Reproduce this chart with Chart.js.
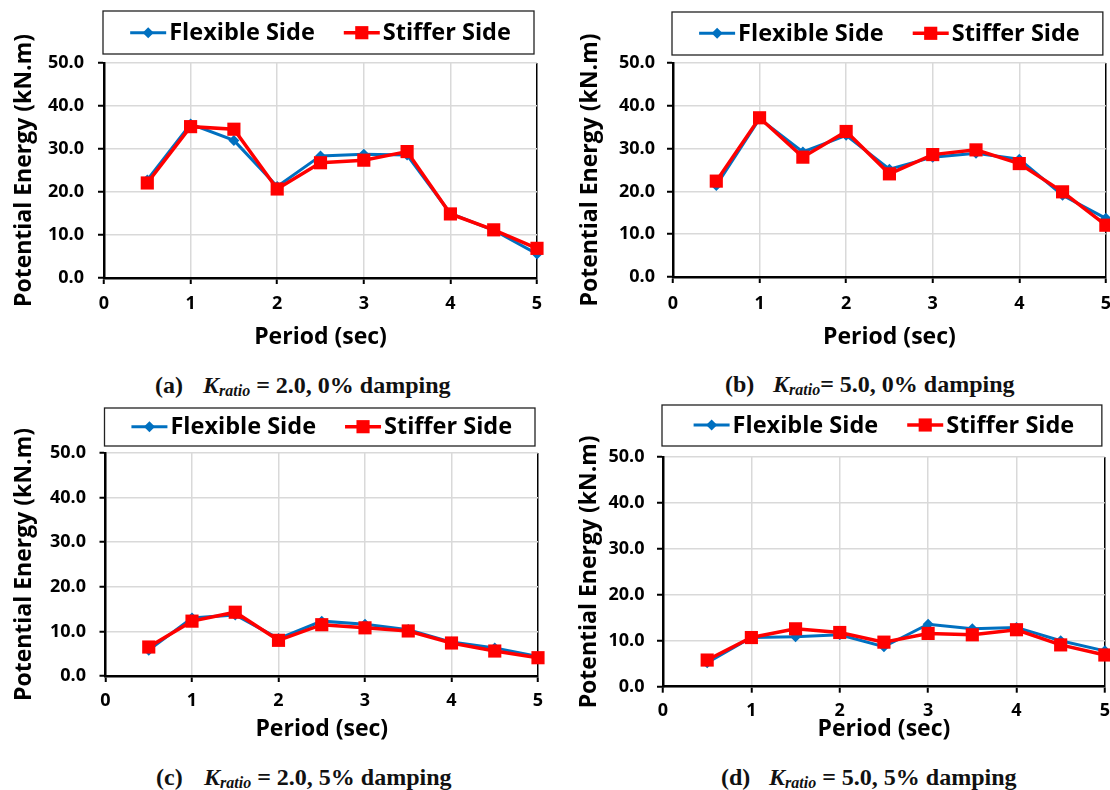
<!DOCTYPE html>
<html>
<head>
<meta charset="utf-8">
<script src="https://cdn.jsdelivr.net/npm/chart.js@4.4.0/dist/chart.umd.min.js"></script>
<style>
  html, body { margin: 0; padding: 0; background: #fff; overflow: hidden; width: 1110px; height: 790px; }
  canvas { position: absolute; }
  .cap { position: absolute; font-family: "Liberation Serif", "Times New Roman", serif; font-weight: bold; font-size: 24px; white-space: nowrap; line-height: 1; color: #111; }
  .cap .k { position: absolute; top: 0; }
  .cap sub { font-size: 16px; vertical-align: -3px; }
</style>
</head>
<body>
<canvas id="chartA" width="560" height="355" style="left:0px;top:0px"></canvas>
<canvas id="chartB" width="566" height="355" style="left:555px;top:0px"></canvas>
<canvas id="chartC" width="560" height="350" style="left:0px;top:400px"></canvas>
<canvas id="chartD" width="562" height="350" style="left:555px;top:400px"></canvas>

<div class="cap" style="left:155px;top:373px">(a)<span class="k" style="left:48px"><i>K</i><sub><i>ratio</i></sub> = 2.0, 0% damping</span></div>
<div class="cap" style="left:725px;top:372px">(b)<span class="k" style="left:48px"><i>K</i><sub><i>ratio</i></sub>= 5.0, 0% damping</span></div>
<div class="cap" style="left:156px;top:765px">(c)<span class="k" style="left:48px"><i>K</i><sub><i>ratio</i></sub> = 2.0, 5% damping</span></div>
<div class="cap" style="left:721px;top:765px">(d)<span class="k" style="left:48px"><i>K</i><sub><i>ratio</i></sub> = 5.0, 5% damping</span></div>

<script>
// period (sec)
const periods = [0.5, 1, 1.5, 2, 2.5, 3, 3.5, 4, 4.5, 5];

// potential energy (kN.m)
const flexA = [22.8, 35.8, 32.0, 21.3, 28.4, 28.8, 28.6, 15.0, 11.1, 5.6];
const stiffA = [22.1, 35.2, 34.6, 20.7, 26.8, 27.4, 29.4, 14.9, 11.2, 6.9];
const flexB = [21.4, 37.0, 29.2, 33.1, 25.2, 28.0, 28.9, 27.5, 19.1, 13.7];
const stiffB = [22.4, 37.2, 28.0, 34.0, 24.1, 28.6, 29.7, 26.5, 19.9, 12.1];
const flexC = [5.8, 13.0, 13.7, 8.4, 12.3, 11.6, 10.4, 7.6, 6.3, 4.4];
const stiffC = [6.5, 12.3, 14.3, 8.0, 11.5, 10.8, 10.1, 7.4, 5.6, 4.1];
const flexD = [5.2, 10.7, 10.9, 11.3, 8.7, 13.6, 12.6, 12.9, 10.0, 7.8];
const stiffD = [5.8, 10.7, 12.6, 11.8, 9.7, 11.6, 11.3, 12.4, 9.1, 6.9];

const seriesNames = ['Flexible Side', 'Stiffer Side'];
const xTitle = 'Period (sec)';
const yTitle = 'Potential Energy (kN.m)';
const xMin = 0, xMax = 5, xStep = 1;
const yMin = 0, yMax = 50, yStep = 10;

const FONT = "'Open Sans', 'DejaVu Sans', sans-serif";
Chart.defaults.font.family = FONT;
Chart.defaults.font.weight = 'bold';
Chart.defaults.color = '#000';

// legend in a box, drawn above the plot (line + marker + label like Excel)
const boxLegend = {
    id: 'boxLegend',
    afterDraw(chart, args, opts) {
        const {ctx, chartArea} = chart;
        ctx.save();
        ctx.strokeStyle = '#222';
        ctx.lineWidth = 1.3;
        const bx = chartArea.left - 1;
        ctx.strokeRect(bx, opts.top, chartArea.right - 3 - bx, opts.bottom - opts.top);

        ctx.font = 'bold 23.5px ' + FONT;
        ctx.textBaseline = 'middle';
        const items = chart.data.datasets.map(ds => ({ds: ds, w: ctx.measureText(ds.label).width}));
        const total = items.reduce((s, it) => s + 39 + it.w, 0) + 29 * (items.length - 1);
        let x = (chartArea.left + chartArea.right) / 2 - total / 2;
        const y = opts.textY;
        items.forEach(it => {
            const ds = it.ds;
            ctx.strokeStyle = ds.borderColor;
            ctx.lineWidth = ds.borderWidth;
            ctx.beginPath();
            ctx.moveTo(x, y);
            ctx.lineTo(x + 36, y);
            ctx.stroke();
            ctx.fillStyle = ds.backgroundColor;
            const r = ds.pointRadius;
            const cx = x + 18;
            ctx.beginPath();
            if (ds.pointStyle === 'rectRot') {
                ctx.moveTo(cx - r, y); ctx.lineTo(cx, y - r); ctx.lineTo(cx + r, y); ctx.lineTo(cx, y + r);
            } else {
                const s = r * Math.SQRT1_2;
                ctx.rect(cx - s, y - s, 2 * s, 2 * s);
            }
            ctx.closePath();
            ctx.fill();
            ctx.fillStyle = '#000';
            ctx.fillText(ds.label, x + 39, y + 1);
            x += 39 + it.w + 29;
        });
        ctx.restore();
    }
};

function makeChart(id, flex, stiff, g) {
    const data = {
        datasets: [
            {
                label: seriesNames[0],
                data: periods.map((p, i) => ({x: p, y: flex[i]})),
                borderColor: '#0070C0',
                backgroundColor: '#0070C0',
                borderWidth: 3,
                pointStyle: 'rectRot',
                pointRadius: 5.5,
                pointBorderWidth: 0,
                clip: false,
                order: 1
            },
            {
                label: seriesNames[1],
                data: periods.map((p, i) => ({x: p, y: stiff[i]})),
                borderColor: '#FF0000',
                backgroundColor: '#FF0000',
                borderWidth: 3.5,
                pointStyle: 'rect',
                pointRadius: 9.3,
                pointBorderWidth: 0,
                clip: false,
                order: 0
            }
        ]
    };
    const config = {
        type: 'line',
        data: data,
        options: {
            responsive: false,
            animation: false,
            layout: {
                padding: {top: g.top, right: g.right, left: 0, bottom: 0}
            },
            plugins: {
                legend: {display: false},
                tooltip: {enabled: false},
                boxLegend: g.legend
            },
            scales: {
                x: {
                    type: 'linear',
                    min: xMin,
                    max: xMax,
                    afterFit: s => { s.height = g.xHeight; },
                    ticks: {stepSize: xStep, padding: g.xPad, font: {size: 18, weight: 'bold'}, color: '#000'},
                    grid: {
                        color: c => c.tick && c.tick.value === xMax ? '#000' : '#d9d9d9',
                        lineWidth: 1.5,
                        tickColor: '#000',
                        tickLength: 6,
                        tickWidth: 2
                    },
                    border: {color: '#000', width: 2.5},
                    title: {display: true, text: xTitle, font: {size: 23, weight: 'bold'}, color: '#000', padding: {top: 0, bottom: g.xTitlePad}}
                },
                y: {
                    min: yMin,
                    max: yMax,
                    afterFit: s => { s.width = g.yWidth; },
                    ticks: {stepSize: yStep, padding: g.yPad, font: {size: 18, weight: 'bold'}, color: '#000',
                        callback: v => v.toFixed(1)},
                    grid: {color: '#d9d9d9', lineWidth: 1.5, tickColor: '#000', tickLength: 6, tickWidth: 2},
                    border: {color: '#000', width: 2.5},
                    title: {display: true, text: yTitle, font: {size: 23, weight: 'bold'}, color: '#000', padding: {top: g.yTitlePad, bottom: 0}}
                }
            }
        },
        plugins: [boxLegend]
    };
    return new Chart(document.getElementById(id), config);
}

makeChart('chartA', flexA, stiffA, {
    top: 63, right: 23, xHeight: 77, yWidth: 104, xPad: 9, yPad: 14, xTitlePad: 4, yTitlePad: 10.8,
    legend: {top: 11, bottom: 54, textY: 32.7}
});
makeChart('chartB', flexB, stiffB, {
    top: 63, right: 3, xHeight: 78, yWidth: 118, xPad: 10, yPad: 12, xTitlePad: 4, yTitlePad: 21.8,
    legend: {top: 12, bottom: 55, textY: 33.3}
});
makeChart('chartC', flexC, stiffC, {
    top: 53, right: 22, xHeight: 74, yWidth: 105.5, xPad: 8, yPad: 13.5, xTitlePad: 7, yTitlePad: 10.8,
    legend: {top: 8, bottom: 46, textY: 26.7}
});
makeChart('chartD', flexD, stiffD, {
    top: 57, right: 8, xHeight: 63.3, yWidth: 108, xPad: 7, yPad: 12.5, xTitlePad: 7, yTitlePad: 20.4,
    legend: {top: 5, bottom: 46, textY: 25}
});
</script>
</body>
</html>
